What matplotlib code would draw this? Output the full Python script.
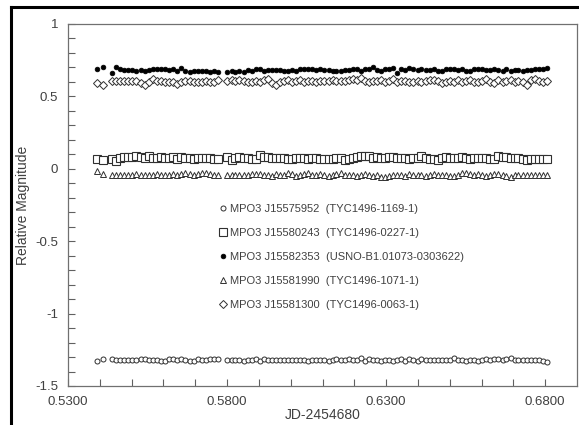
import matplotlib.pyplot as plt
from matplotlib.lines import Line2D

plt.rcParams['font.family'] = ['Liberation Sans', 'DejaVu Sans']

# observation times (JD-2454680)
jd = [
    0.5392, 0.5409,
    0.5438, 0.5451, 0.5464, 0.5476, 0.5489, 0.5502, 0.5515, 0.5528, 0.5541, 0.5554,
    0.5566, 0.5579, 0.5592, 0.5605, 0.5618, 0.5631, 0.5644, 0.5656, 0.5669, 0.5682,
    0.5695, 0.5708, 0.5721, 0.5734, 0.5746, 0.5759, 0.5772,
    0.5801, 0.5814, 0.5826, 0.5839, 0.5852, 0.5865, 0.5877, 0.5890, 0.5903, 0.5915,
    0.5928, 0.5941, 0.5954, 0.5966, 0.5979, 0.5992, 0.6004, 0.6017, 0.6030, 0.6043,
    0.6055, 0.6068, 0.6081, 0.6093, 0.6106, 0.6119, 0.6132, 0.6144, 0.6157, 0.6170,
    0.6182, 0.6195, 0.6208, 0.6221, 0.6233, 0.6246, 0.6259, 0.6271, 0.6284, 0.6297,
    0.6310, 0.6322, 0.6335, 0.6348, 0.6360, 0.6373, 0.6386, 0.6399, 0.6411, 0.6424,
    0.6437, 0.6449, 0.6462, 0.6475, 0.6488, 0.6500, 0.6513, 0.6526, 0.6538, 0.6551,
    0.6564, 0.6577, 0.6589, 0.6602, 0.6615, 0.6627, 0.6640, 0.6653, 0.6666, 0.6678,
    0.6691, 0.6704, 0.6716, 0.6729, 0.6742, 0.6755, 0.6767, 0.6780, 0.6793, 0.6806,
]

# USNO-B1.01073-0303622 (filled dots)
mag_usno = [
    0.690, 0.700,
    0.660, 0.700, 0.690, 0.685, 0.680, 0.682, 0.672, 0.684, 0.676, 0.680,
    0.692, 0.688, 0.688, 0.686, 0.684, 0.690, 0.678, 0.694, 0.676, 0.670,
    0.672, 0.672, 0.672, 0.674, 0.670, 0.672, 0.670,
    0.668, 0.672, 0.670, 0.678, 0.670, 0.682, 0.676, 0.686, 0.690, 0.678,
    0.684, 0.680, 0.682, 0.680, 0.678, 0.674, 0.680, 0.674, 0.692, 0.690,
    0.688, 0.686, 0.682, 0.690, 0.684, 0.680, 0.678, 0.676, 0.674, 0.680,
    0.682, 0.690, 0.686, 0.678, 0.688, 0.690, 0.700, 0.682, 0.676, 0.686,
    0.690, 0.698, 0.664, 0.688, 0.682, 0.694, 0.686, 0.680, 0.690, 0.682,
    0.684, 0.690, 0.678, 0.674, 0.688, 0.690, 0.686, 0.684, 0.690, 0.678,
    0.674, 0.688, 0.690, 0.692, 0.684, 0.682, 0.690, 0.680, 0.674, 0.686,
    0.676, 0.682, 0.684, 0.672, 0.680, 0.684, 0.686, 0.690, 0.688, 0.694,
]

# TYC1496-0063-1 (diamonds)
mag_0063 = [
    0.590, 0.578,
    0.605, 0.605, 0.605, 0.605, 0.605, 0.604, 0.605, 0.595, 0.580, 0.598,
    0.618, 0.606, 0.604, 0.600, 0.598, 0.596, 0.588, 0.600, 0.606, 0.604,
    0.600, 0.596, 0.598, 0.604, 0.600, 0.602, 0.610,
    0.608, 0.612, 0.604, 0.615, 0.606, 0.602, 0.600, 0.604, 0.600, 0.610,
    0.618, 0.592, 0.582, 0.596, 0.604, 0.610, 0.598, 0.604, 0.612, 0.600,
    0.604, 0.608, 0.600, 0.604, 0.608, 0.606, 0.610, 0.604, 0.608, 0.604,
    0.612, 0.620, 0.616, 0.628, 0.604, 0.600, 0.606, 0.604, 0.610, 0.596,
    0.604, 0.618, 0.600, 0.608, 0.606, 0.602, 0.600, 0.604, 0.598, 0.606,
    0.610, 0.616, 0.604, 0.594, 0.602, 0.608, 0.600, 0.616, 0.598, 0.604,
    0.612, 0.600, 0.596, 0.608, 0.618, 0.600, 0.594, 0.610, 0.596, 0.606,
    0.612, 0.600, 0.608, 0.598, 0.582, 0.616, 0.620, 0.604, 0.600, 0.606,
]

# TYC1496-0227-1 (squares)
mag_0227 = [
    0.068, 0.062,
    0.068, 0.052, 0.072, 0.080, 0.084, 0.080, 0.088, 0.084, 0.076, 0.086,
    0.072, 0.078, 0.080, 0.076, 0.076, 0.082, 0.070, 0.080, 0.078, 0.076,
    0.070, 0.076, 0.078, 0.074, 0.072, 0.070, 0.066,
    0.080, 0.064, 0.076, 0.082, 0.074, 0.078, 0.066, 0.070, 0.092, 0.084,
    0.080, 0.078, 0.076, 0.074, 0.072, 0.070, 0.068, 0.074, 0.072, 0.078,
    0.066, 0.072, 0.074, 0.070, 0.070, 0.068, 0.066, 0.072, 0.078, 0.060,
    0.068, 0.074, 0.080, 0.086, 0.090, 0.086, 0.078, 0.082, 0.076, 0.076,
    0.080, 0.082, 0.078, 0.076, 0.074, 0.070, 0.072, 0.076, 0.086, 0.074,
    0.070, 0.068, 0.060, 0.074, 0.082, 0.076, 0.074, 0.072, 0.080, 0.072,
    0.068, 0.074, 0.076, 0.078, 0.074, 0.066, 0.070, 0.088, 0.082, 0.084,
    0.074, 0.076, 0.074, 0.070, 0.062, 0.070, 0.068, 0.066, 0.070, 0.068,
]

# TYC1496-1071-1 (triangles)
mag_1071 = [
    -0.015, -0.035,
    -0.045, -0.046, -0.046, -0.046, -0.044, -0.040, -0.036, -0.046, -0.044, -0.044,
    -0.040, -0.034, -0.044, -0.046, -0.042, -0.034, -0.040, -0.038, -0.030, -0.034,
    -0.040, -0.038, -0.032, -0.026, -0.034, -0.042, -0.044,
    -0.044, -0.044, -0.042, -0.040, -0.040, -0.040, -0.038, -0.036, -0.038, -0.040,
    -0.044, -0.048, -0.036, -0.040, -0.044, -0.030, -0.038, -0.050, -0.040, -0.036,
    -0.032, -0.046, -0.040, -0.034, -0.044, -0.050, -0.040, -0.036, -0.030, -0.040,
    -0.046, -0.040, -0.052, -0.040, -0.034, -0.044, -0.050, -0.046, -0.054, -0.060,
    -0.048, -0.046, -0.040, -0.042, -0.050, -0.036, -0.040, -0.044, -0.046, -0.052,
    -0.042, -0.034, -0.040, -0.044, -0.046, -0.048, -0.050, -0.044, -0.030, -0.026,
    -0.034, -0.040, -0.036, -0.046, -0.048, -0.040, -0.036, -0.038, -0.044, -0.052,
    -0.054, -0.046, -0.044, -0.040, -0.040, -0.042, -0.040, -0.040, -0.040, -0.040,
]

# TYC1496-1169-1 (open circles)
mag_1169 = [
    -1.330, -1.312,
    -1.312, -1.320, -1.320, -1.320, -1.320, -1.318, -1.320, -1.316, -1.316, -1.320,
    -1.318, -1.320, -1.324, -1.326, -1.316, -1.316, -1.322, -1.312, -1.318, -1.326,
    -1.324, -1.316, -1.320, -1.318, -1.316, -1.316, -1.316,
    -1.318, -1.318, -1.322, -1.322, -1.326, -1.320, -1.318, -1.316, -1.326, -1.316,
    -1.318, -1.318, -1.320, -1.320, -1.320, -1.322, -1.322, -1.320, -1.320, -1.322,
    -1.324, -1.320, -1.318, -1.320, -1.322, -1.324, -1.320, -1.316, -1.320, -1.318,
    -1.316, -1.318, -1.320, -1.308, -1.324, -1.314, -1.320, -1.322, -1.326, -1.322,
    -1.320, -1.324, -1.322, -1.316, -1.324, -1.312, -1.318, -1.324, -1.314, -1.322,
    -1.320, -1.320, -1.318, -1.318, -1.320, -1.320, -1.310, -1.318, -1.320, -1.324,
    -1.322, -1.318, -1.324, -1.318, -1.314, -1.318, -1.316, -1.312, -1.318, -1.316,
    -1.310, -1.318, -1.320, -1.322, -1.320, -1.320, -1.318, -1.322, -1.326, -1.334,
]

labels = [
    "MPO3 J15575952  (TYC1496-1169-1)",
    "MPO3 J15580243  (TYC1496-0227-1)",
    "MPO3 J15582353  (USNO-B1.01073-0303622)",
    "MPO3 J15581990  (TYC1496-1071-1)",
    "MPO3 J15581300  (TYC1496-0063-1)",
]

ec = "#303030"
txt = "#404040"

fig = plt.figure(figsize=(5.79, 4.25), dpi=100)
ax = fig.add_axes([68 / 579, 1 - 386 / 425, 509 / 579, 362 / 425])

ax.plot(jd, mag_1169, ls="none", marker="o", ms=3.6, mfc="white", mec=ec, mew=0.7, label=labels[0])
ax.plot(jd, mag_0227, ls="none", marker="s", ms=5.6, mfc="white", mec=ec, mew=0.8, label=labels[1])
ax.plot(jd, mag_usno, ls="none", marker="o", ms=3.4, mfc="black", mec="black", mew=0.5, label=labels[2])
ax.plot(jd, mag_1071, ls="none", marker="^", ms=4.6, mfc="white", mec=ec, mew=0.7, label=labels[3])
ax.plot(jd, mag_0063, ls="none", marker="D", ms=3.8, mfc="white", mec=ec, mew=0.7, label=labels[4])

ax.set_xlim(0.53, 0.69)
ax.set_ylim(-1.5, 1)
ax.set_xticks([0.53, 0.58, 0.63, 0.68])
ax.set_xticklabels(["0.5300", "0.5800", "0.6300", "0.6800"])
ax.set_xticks([0.54, 0.55, 0.56, 0.57, 0.59, 0.60, 0.61, 0.62, 0.64, 0.65, 0.66, 0.67], minor=True)
ax.set_yticks([1, 0.5, 0, -0.5, -1, -1.5])
ax.set_yticklabels(["1", "0.5", "0", "-0.5", "-1", "-1.5"])
ax.set_yticks([0.9, 0.8, 0.7, 0.6, 0.4, 0.3, 0.2, 0.1, -0.1, -0.2, -0.3, -0.4,
               -0.6, -0.7, -0.8, -0.9, -1.1, -1.2, -1.3, -1.4], minor=True)
ax.tick_params(which="both", direction="in", color="#606060", width=0.8, labelsize=9.5,
               labelcolor=txt, top=False, right=False, length=5)
ax.tick_params(axis="x", pad=7)
ax.tick_params(axis="y", pad=7)
for s in ax.spines.values():
    s.set_color("#707070")
    s.set_linewidth(0.9)

ax.set_xlabel("JD-2454680", fontsize=10, color=txt, labelpad=0)
ax.set_ylabel("Relative Magnitude", fontsize=10, color=txt, labelpad=4)

ax.legend(loc="upper left", bbox_to_anchor=(219 / 579, 1 - 204 / 425), bbox_transform=fig.transFigure,
          frameon=False, fontsize=8, handlelength=0.8, handletextpad=0.2, labelspacing=1.25,
          borderpad=0, borderaxespad=0, labelcolor=txt)

# outer black frame of the original figure
fig.add_artist(Line2D([10.5 / 579, 10.5 / 579], [0, 1 - 7 / 425], color="black", lw=2.2,
                      transform=fig.transFigure))
fig.add_artist(Line2D([10.5 / 579, 1], [1 - 7 / 425, 1 - 7 / 425], color="black", lw=2.2,
                      transform=fig.transFigure))

fig.savefig("out.png", dpi=100)
